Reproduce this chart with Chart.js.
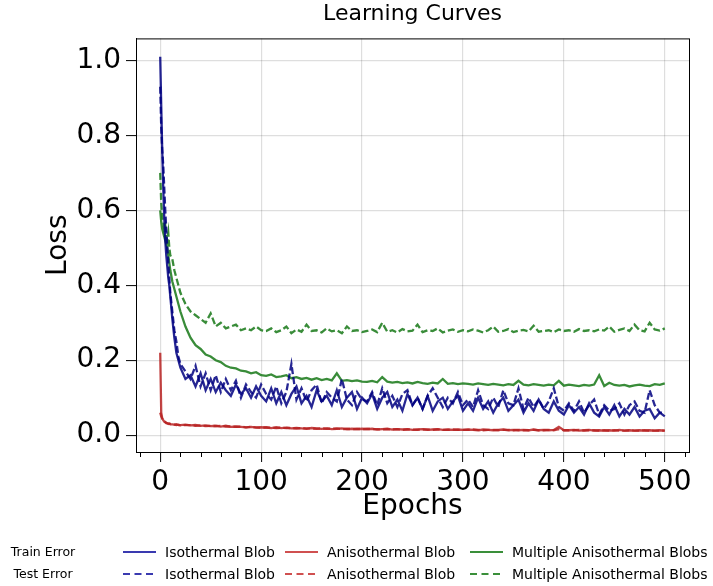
<!DOCTYPE html>
<html>
<head>
<meta charset="utf-8">
<script src="https://cdn.jsdelivr.net/npm/chart.js@4.4.1/dist/chart.umd.min.js"></script>
<style>
    html, body { margin: 0; padding: 0; background: #fff; }
    #wrap { position: relative; width: 713px; height: 586px; font-family: "DejaVu Sans", sans-serif; }
    #chart { position: absolute; left: 0; top: 0; }
    .lg { position: absolute; white-space: nowrap; color: #000; line-height: 1; }
    .rowlab { font-size: 12.5px; width: 86px; text-align: center; left: 0; }
    .name { font-size: 14px; }
    .swatch { position: absolute; }
</style>
</head>
<body>
<div id="wrap">
    <canvas id="chart" width="713" height="586"></canvas>
    <div id="legend"></div>
</div>
<script>
// epochs at which the curves are sampled
const epochs = [0, 1, 2, 3, 4, 5, 6, 7, 8, 9, 10, 12, 14, 16, 18,
    20, 25, 30, 35, 40, 45, 50, 55, 60, 65, 70, 75, 80, 85, 90, 95, 100,
    105, 110, 115, 120, 125, 130, 135, 140, 145, 150, 155, 160, 165, 170, 175, 180, 185, 190, 195, 200,
    205, 210, 215, 220, 225, 230, 235, 240, 245, 250, 255, 260, 265, 270, 275, 280, 285, 290, 295, 300,
    305, 310, 315, 320, 325, 330, 335, 340, 345, 350, 355, 360, 365, 370, 375, 380, 385, 390, 395, 400,
    405, 410, 415, 420, 425, 430, 435, 440, 445, 450, 455, 460, 465, 470, 475, 480, 485, 490, 495, 500];

// Isothermal Blob
const isoTrain = [1.01, 0.88, 0.76, 0.66, 0.58, 0.52, 0.48, 0.45, 0.42, 0.40, 0.37,
    0.31, 0.26, 0.22, 0.20,
    0.18, 0.15, 0.16, 0.13, 0.165, 0.12, 0.15, 0.115, 0.14, 0.12, 0.105, 0.135, 0.11, 0.125, 0.10, 0.13, 0.105,
    0.09, 0.125, 0.085, 0.115, 0.08, 0.11, 0.13, 0.085, 0.105, 0.075, 0.12, 0.09, 0.105, 0.08, 0.12, 0.075, 0.10, 0.115, 0.07, 0.10,
    0.085, 0.11, 0.07, 0.10, 0.115, 0.075, 0.095, 0.065, 0.11, 0.08, 0.10, 0.07, 0.105, 0.065, 0.09, 0.10, 0.07, 0.09, 0.105, 0.065,
    0.085, 0.065, 0.10, 0.07, 0.09, 0.06, 0.085, 0.10, 0.065, 0.08, 0.095, 0.06, 0.085, 0.065, 0.095, 0.07, 0.06, 0.09, 0.065, 0.055,
    0.08, 0.06, 0.075, 0.055, 0.085, 0.06, 0.05, 0.075, 0.055, 0.08, 0.05, 0.07, 0.055, 0.075, 0.05, 0.065, 0.07, 0.045, 0.06, 0.05];
const isoTest = [0.93, 0.82, 0.76, 0.72, 0.66, 0.60, 0.55, 0.50, 0.46, 0.42, 0.38,
    0.33, 0.28, 0.25, 0.21,
    0.19, 0.17, 0.15, 0.185, 0.13, 0.165, 0.12, 0.16, 0.115, 0.15, 0.12, 0.145, 0.10, 0.135, 0.115, 0.10, 0.135,
    0.11, 0.095, 0.13, 0.085, 0.115, 0.19, 0.095, 0.125, 0.09, 0.12, 0.135, 0.085, 0.115, 0.10, 0.09, 0.15, 0.095, 0.08, 0.115, 0.095,
    0.09, 0.115, 0.08, 0.125, 0.085, 0.105, 0.075, 0.11, 0.12, 0.08, 0.10, 0.07, 0.105, 0.125, 0.10, 0.075, 0.10, 0.085, 0.115, 0.08,
    0.095, 0.075, 0.12, 0.08, 0.07, 0.10, 0.075, 0.12, 0.085, 0.08, 0.125, 0.07, 0.10, 0.075, 0.095, 0.07, 0.09, 0.125, 0.075, 0.065,
    0.085, 0.065, 0.09, 0.06, 0.08, 0.095, 0.055, 0.08, 0.065, 0.07, 0.085, 0.055, 0.08, 0.09, 0.065, 0.06, 0.12, 0.08, 0.06, 0.06];

// Anisothermal Blob
const anisoTrain = [0.22, 0.06, 0.045, 0.04, 0.036, 0.034, 0.032, 0.031, 0.03, 0.031, 0.029,
    0.029, 0.028, 0.029, 0.027,
    0.027, 0.028, 0.026, 0.027, 0.025, 0.026, 0.024, 0.025, 0.023, 0.025, 0.022, 0.023, 0.022, 0.021, 0.022, 0.02, 0.021,
    0.02, 0.019, 0.021, 0.019, 0.02, 0.018, 0.019, 0.018, 0.017, 0.019, 0.018, 0.017, 0.018, 0.016, 0.017, 0.018, 0.016, 0.017, 0.016, 0.017,
    0.016, 0.017, 0.015, 0.016, 0.017, 0.015, 0.016, 0.015, 0.016, 0.014, 0.015, 0.016, 0.014, 0.015, 0.016, 0.014, 0.015, 0.014, 0.015, 0.014,
    0.015, 0.014, 0.013, 0.015, 0.014, 0.013, 0.014, 0.015, 0.013, 0.014, 0.013, 0.014, 0.013, 0.015, 0.013, 0.014, 0.013, 0.014, 0.022, 0.013,
    0.013, 0.014, 0.012, 0.013, 0.014, 0.012, 0.013, 0.012, 0.013, 0.012, 0.014, 0.012, 0.013, 0.012, 0.013, 0.012, 0.013, 0.012, 0.013, 0.012];
const anisoTest = [0.06, 0.05, 0.044, 0.04, 0.037, 0.035, 0.033, 0.032, 0.031, 0.03, 0.03,
    0.029, 0.028, 0.027, 0.028,
    0.026, 0.027, 0.027, 0.025, 0.026, 0.024, 0.025, 0.024, 0.025, 0.023, 0.023, 0.022, 0.023, 0.021, 0.022, 0.021, 0.02,
    0.021, 0.02, 0.019, 0.02, 0.019, 0.019, 0.018, 0.019, 0.018, 0.018, 0.017, 0.018, 0.017, 0.017, 0.018, 0.016, 0.017, 0.016, 0.017, 0.016,
    0.017, 0.016, 0.016, 0.015, 0.016, 0.015, 0.016, 0.014, 0.015, 0.015, 0.014, 0.015, 0.015, 0.014, 0.015, 0.014, 0.014, 0.015, 0.014, 0.014,
    0.014, 0.015, 0.014, 0.013, 0.014, 0.014, 0.013, 0.014, 0.014, 0.013, 0.014, 0.013, 0.013, 0.014, 0.013, 0.013, 0.014, 0.013, 0.016, 0.013,
    0.013, 0.013, 0.014, 0.012, 0.013, 0.013, 0.012, 0.013, 0.012, 0.013, 0.012, 0.012, 0.013, 0.012, 0.012, 0.013, 0.012, 0.012, 0.012, 0.012];

// Multiple Anisothermal Blobs
const multiTrain = [0.60, 0.57, 0.55, 0.54, 0.53, 0.52, 0.51, 0.50, 0.48, 0.46, 0.44,
    0.41, 0.39, 0.37, 0.35,
    0.33, 0.29, 0.26, 0.24, 0.23, 0.215, 0.21, 0.20, 0.195, 0.185, 0.18, 0.178, 0.172, 0.17, 0.165, 0.168, 0.16,
    0.158, 0.162, 0.155, 0.157, 0.16, 0.152, 0.155, 0.15, 0.153, 0.148, 0.152, 0.147, 0.15, 0.146, 0.165, 0.145, 0.147, 0.144, 0.146, 0.143,
    0.142, 0.145, 0.141, 0.155, 0.143, 0.14, 0.142, 0.139, 0.141, 0.138, 0.142, 0.139, 0.137, 0.14, 0.138, 0.15, 0.137, 0.139, 0.136, 0.138,
    0.137, 0.135, 0.138, 0.136, 0.134, 0.137, 0.135, 0.133, 0.136, 0.134, 0.145, 0.135, 0.133, 0.136, 0.134, 0.132, 0.135, 0.133, 0.145, 0.132,
    0.135, 0.133, 0.131, 0.134, 0.132, 0.135, 0.16, 0.131, 0.14, 0.134, 0.132, 0.134, 0.13, 0.133, 0.135, 0.132, 0.131, 0.136, 0.134, 0.138];
const multiTest = [0.70, 0.62, 0.58, 0.57, 0.55, 0.56, 0.53, 0.52, 0.54, 0.50, 0.48,
    0.47, 0.44, 0.42, 0.40,
    0.38, 0.35, 0.33, 0.32, 0.31, 0.30, 0.325, 0.29, 0.30, 0.285, 0.29, 0.295, 0.28, 0.285, 0.28, 0.29, 0.28,
    0.278, 0.285, 0.275, 0.28, 0.29, 0.272, 0.282, 0.276, 0.295, 0.278, 0.28, 0.274, 0.285, 0.277, 0.28, 0.272, 0.29, 0.278, 0.28, 0.275,
    0.278, 0.282, 0.275, 0.30, 0.276, 0.28, 0.274, 0.283, 0.277, 0.279, 0.295, 0.275, 0.28, 0.278, 0.285, 0.274, 0.279, 0.282, 0.276, 0.28,
    0.277, 0.282, 0.279, 0.274, 0.28, 0.29, 0.276, 0.278, 0.283, 0.275, 0.279, 0.281, 0.277, 0.292, 0.276, 0.278, 0.28, 0.275, 0.282, 0.278,
    0.28, 0.276, 0.283, 0.278, 0.28, 0.277, 0.282, 0.279, 0.29, 0.276, 0.281, 0.285, 0.278, 0.295, 0.28, 0.277, 0.30, 0.282, 0.279, 0.285];

// tick labels
const xTicks = [0, 100, 200, 300, 400, 500];
const xMinorTicks = [-20, 20, 40, 60, 80, 120, 140, 160, 180, 220, 240, 260, 280, 320, 340, 360, 380, 420, 440, 460, 480, 520];
const yTicks = [0, 0.2, 0.4, 0.6, 0.8, 1.0];

const seriesNames = ['Isothermal Blob', 'Anisothermal Blob', 'Multiple Anisothermal Blobs'];
const rowNames = ['Train Error', 'Test Error'];

const colors = {
    blue: 'rgba(0, 0, 128, 0.85)',
    red: 'rgba(185, 35, 35, 0.85)',
    green: 'rgba(35, 128, 35, 0.9)',
    legendBlue: '#3a3ab0',
    legendRed: '#d05050',
    legendGreen: '#3a8f3a'
};
const DASH = [7, 3];
const FONT = '"DejaVu Sans", sans-serif';

function toPoints(ys) {
    return ys.map((y, i) => ({ x: epochs[i], y: y }));
}

function series(label, ys, color, dashed) {
    return {
        label: label,
        data: toPoints(ys),
        borderColor: color,
        backgroundColor: color,
        borderWidth: 2.3,
        borderDash: dashed ? DASH : [],
        pointRadius: 0,
        tension: 0,
        fill: false
    };
}

// box around the plot + short minor ticks on the x axis
const framePlugin = {
    id: 'frame',
    afterDraw(chart) {
        const { ctx, chartArea: a } = chart;
        const xs = chart.scales.x;
        ctx.save();
        ctx.strokeStyle = '#000';
        ctx.lineWidth = 1;
        ctx.strokeRect(a.left + 0.5, a.top + 0.5, a.right - a.left, a.bottom - a.top);
        ctx.beginPath();
        xMinorTicks.forEach(v => {
            const px = Math.round(xs.getPixelForValue(v)) + 0.5;
            ctx.moveTo(px, a.bottom);
            ctx.lineTo(px, a.bottom + 5);
        });
        ctx.stroke();
        ctx.restore();
    }
};

const ctx = document.getElementById('chart').getContext('2d');
new Chart(ctx, {
    type: 'line',
    data: {
        datasets: [
            series(seriesNames[0] + ' train', isoTrain, colors.blue, false),
            series(seriesNames[0] + ' test', isoTest, colors.blue, true),
            series(seriesNames[1] + ' train', anisoTrain, colors.red, false),
            series(seriesNames[1] + ' test', anisoTest, colors.red, true),
            series(seriesNames[2] + ' train', multiTrain, colors.green, false),
            series(seriesNames[2] + ' test', multiTest, colors.green, true)
        ]
    },
    options: {
        responsive: false,
        animation: false,
        layout: { padding: { left: 0, right: 24, top: 0, bottom: 62 } },
        plugins: {
            legend: { display: false },
            tooltip: { enabled: false },
            title: {
                display: true,
                text: 'Learning Curves',
                fullSize: false,
                color: '#000',
                font: { family: FONT, size: 22, weight: 'normal' },
                padding: { top: 1, bottom: 11 }
            }
        },
        scales: {
            x: {
                type: 'linear',
                min: -24,
                max: 524,
                afterBuildTicks: s => { s.ticks = xTicks.map(v => ({ value: v })); },
                afterFit: s => { s.height = 72; },
                ticks: {
                    color: '#000',
                    font: { family: FONT, size: 28 },
                    padding: 4,
                    maxRotation: 0
                },
                grid: {
                    color: 'rgba(0, 0, 0, 0.13)',
                    lineWidth: 1.2,
                    tickColor: '#000',
                    tickLength: 10,
                    tickWidth: 1
                },
                border: { color: '#000', width: 1 },
                title: {
                    display: true,
                    text: 'Epochs',
                    color: '#000',
                    font: { family: FONT, size: 28 },
                    padding: { top: 0, bottom: 0 }
                }
            },
            y: {
                type: 'linear',
                min: -0.045,
                max: 1.059,
                afterBuildTicks: s => { s.ticks = yTicks.map(v => ({ value: v })); },
                afterFit: s => { s.width = 136; },
                ticks: {
                    color: '#000',
                    font: { family: FONT, size: 28 },
                    padding: 5,
                    callback: v => v.toFixed(1)
                },
                grid: {
                    color: 'rgba(0, 0, 0, 0.13)',
                    lineWidth: 1.2,
                    tickColor: '#000',
                    tickLength: 10,
                    tickWidth: 1
                },
                border: { color: '#000', width: 1 },
                title: {
                    display: true,
                    text: 'Loss',
                    color: '#000',
                    font: { family: FONT, size: 28 },
                    padding: { top: 42, bottom: 0 }
                }
            }
        }
    },
    plugins: [framePlugin]
});

// legend laid out like the reference: row labels on the left, three series columns
function buildLegend() {
    const legend = document.getElementById('legend');
    const rowsY = [553, 575];
    const cols = [
        { lineX: 123, textX: 165, color: colors.legendBlue },
        { lineX: 285, textX: 327, color: colors.legendRed },
        { lineX: 470, textX: 512, color: colors.legendGreen }
    ];
    rowNames.forEach((row, r) => {
        const lab = document.createElement('div');
        lab.className = 'lg rowlab';
        lab.textContent = row;
        lab.style.top = (rowsY[r] - 7) + 'px';
        legend.appendChild(lab);
        cols.forEach((c, i) => {
            const svg = document.createElementNS('http://www.w3.org/2000/svg', 'svg');
            svg.setAttribute('width', '33');
            svg.setAttribute('height', '4');
            svg.setAttribute('class', 'swatch');
            svg.style.left = c.lineX + 'px';
            svg.style.top = (rowsY[r] - 3) + 'px';
            const ln = document.createElementNS('http://www.w3.org/2000/svg', 'line');
            ln.setAttribute('x1', '0'); ln.setAttribute('y1', '2');
            ln.setAttribute('x2', '33'); ln.setAttribute('y2', '2');
            ln.setAttribute('stroke', c.color);
            ln.setAttribute('stroke-width', '2');
            if (r === 1) ln.setAttribute('stroke-dasharray', '7,4.5');
            svg.appendChild(ln);
            legend.appendChild(svg);

            const t = document.createElement('div');
            t.className = 'lg name';
            t.textContent = seriesNames[i];
            t.style.left = c.textX + 'px';
            t.style.top = (rowsY[r] - 8) + 'px';
            legend.appendChild(t);
        });
    });
}
buildLegend();
</script>
</body>
</html>
